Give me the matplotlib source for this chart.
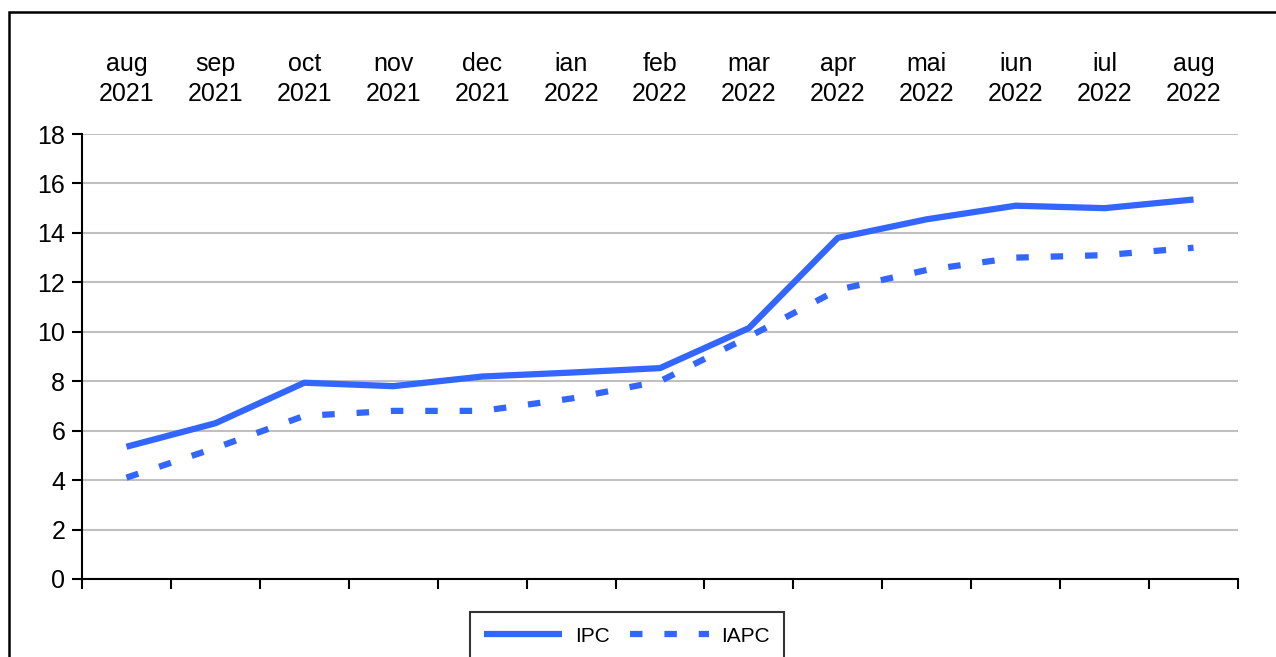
import numpy as np
import matplotlib
matplotlib.use("Agg")
import matplotlib.pyplot as plt
from matplotlib.patches import Rectangle

plt.rcParams['font.family'] = ['Liberation Sans', 'DejaVu Sans']

months = ['aug\n2021', 'sep\n2021', 'oct\n2021', 'nov\n2021', 'dec\n2021', 'ian\n2022', 'feb\n2022',
          'mar\n2022', 'apr\n2022', 'mai\n2022', 'iun\n2022', 'iul\n2022', 'aug\n2022']
ipc = [5.35, 6.3, 7.94, 7.8, 8.19, 8.35, 8.53, 10.15, 13.8, 14.55, 15.1, 15.0, 15.35]
iapc = [4.1, 5.3, 6.6, 6.8, 6.8, 7.3, 8.0, 9.8, 11.7, 12.5, 13.0, 13.1, 13.4]

blue = '#3366FF'

fig = plt.figure(figsize=(12.76, 6.57), dpi=100)
ax = fig.add_axes([82/1276, 1 - 579/657, (1238 - 82)/1276, (579 - 134)/657])

x = np.arange(len(months))
ax.plot(x, ipc, color=blue, lw=4.5, solid_capstyle='butt', label='IPC')
ax.plot(x, iapc, color=blue, lw=4.5, dashes=(2, 3.5), dash_capstyle='butt', label='IAPC')

ax.set_xlim(-0.5, len(months) - 0.5)
ax.set_ylim(0, 18)
ax.set_yticks(range(0, 19, 2))
ax.yaxis.grid(True, color='#C0C0C0', lw=1.5)
ax.set_axisbelow(True)
ax.set_xticks(np.arange(-0.5, len(months), 1))
ax.set_xticklabels([])
ax.tick_params(axis='both', direction='out', length=7, width=1.5, labelsize=18, colors='black')
ax.tick_params(axis='y', pad=5)
for side in ['top', 'right']:
    ax.spines[side].set_visible(False)
for side in ['left', 'bottom']:
    ax.spines[side].set_linewidth(1.5)

top = ax.secondary_xaxis('top')
top.set_xticks(x)
top.set_xticklabels(months, fontsize=18, linespacing=1.35)
top.tick_params(length=0, pad=20)
top.spines['top'].set_visible(False)

leg = fig.legend(loc='upper center', bbox_to_anchor=(627/1276, 1 - 612/657), ncol=2,
                 fontsize=15, frameon=True, fancybox=False, edgecolor='black',
                 handlelength=3.75, handletextpad=0.6, columnspacing=1.0,
                 borderpad=0.7, borderaxespad=0)
leg.get_frame().set_linewidth(1.5)

fig.patches.append(Rectangle((9/1276, -0.1), 1.2, 1 - 12/657 + 0.1, transform=fig.transFigure,
                             fill=False, edgecolor='black', lw=1.8))

fig.savefig('out.png', dpi=100)
